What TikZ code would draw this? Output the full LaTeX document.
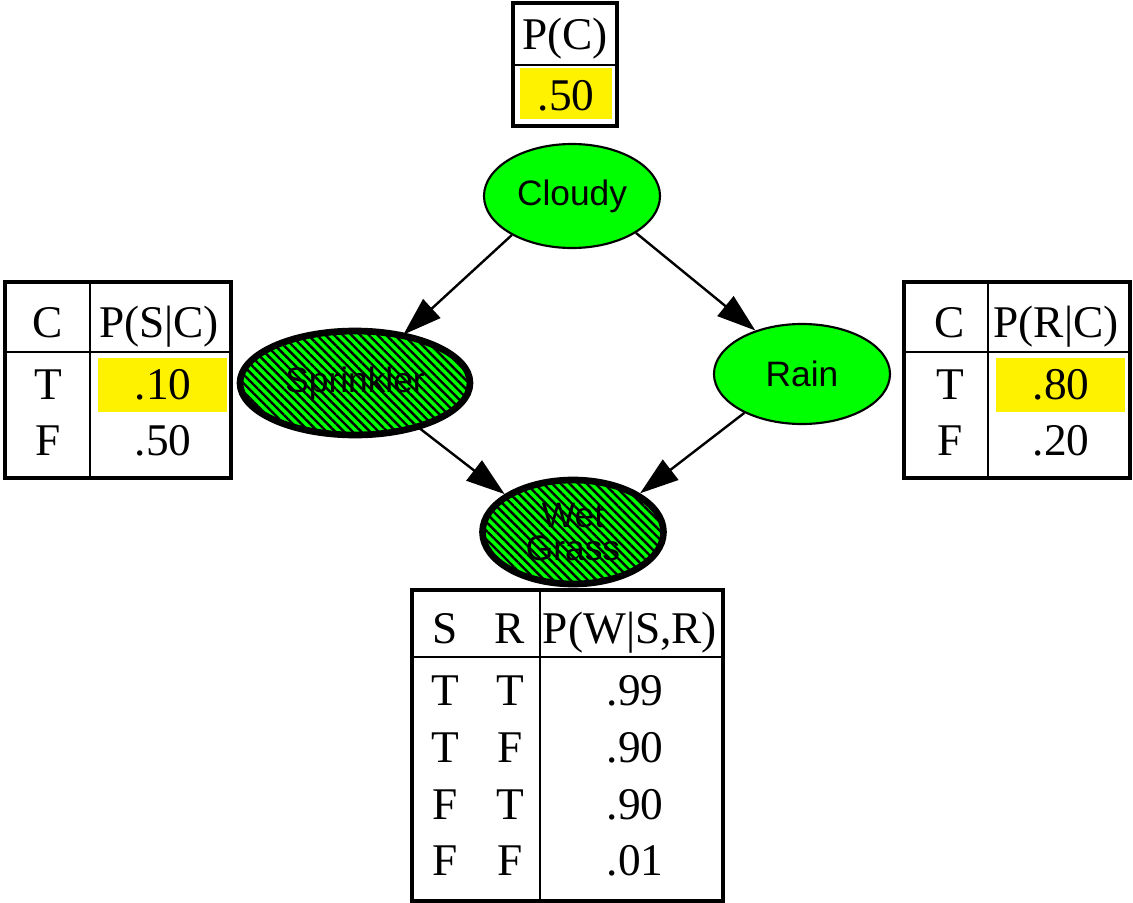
\documentclass[tikz,border=0pt]{standalone}
\usepackage{fontspec}
\setmainfont{Liberation Serif}
\newfontfamily\nodefont{Liberation Sans}
\usetikzlibrary{shapes.geometric,arrows.meta,patterns.meta}
\begin{document}
\begin{tikzpicture}[x=0.75pt,y=-0.75pt,
  bn/.style={ellipse,draw,line width=1.6pt,fill=green,inner sep=0pt,font=\nodefont\fontsize{26.5}{25}\selectfont,align=center},
  obs/.style={bn,line width=5pt,preaction={fill=green},pattern={Lines[angle=-45,distance=4.6pt,line width=1.8pt]},pattern color=black},
  edge/.style={line width=1.8pt,-{Triangle[length=29pt,width=19pt]}},
  tbl/.style={draw,line width=2.4pt},
  tline/.style={line width=1.7pt},
  hl/.style={fill=yellow},
  cell/.style={anchor=base,inner sep=0pt,font=\fontsize{34}{38}\selectfont}
]
\useasboundingbox (0,0) rectangle (1133,903);

% Bayesian network nodes
\node[bn,minimum width=132pt,minimum height=78pt] (cloudy) at (572,196) {Cloudy};
\node[obs,minimum width=172.5pt,minimum height=78pt] (sprinkler) at (355,383) {Sprinkler};
\node[bn,minimum width=132pt,minimum height=75pt] (rain) at (802,374) {Rain};
\node[obs,minimum width=135.75pt,minimum height=78pt] (wet) at (573,532) {Wet\\Grass};

% edges
\draw[edge] (cloudy.213) -- (sprinkler.45);
\draw[edge] (cloudy.330) -- (rain.137);
\draw[edge] (sprinkler.325) -- (wet.151);
\draw[edge] (rain.214) -- (wet.30);

% top table P(C)
\fill[hl] (520,68) rectangle (612,119);
\draw[tline] (513,65) -- (617,65);
\draw[tbl] (513,3) rectangle (617,126);
\node[cell] (pc) at (565,49) {P(C)};
\node[cell] (pcv) at (566,110) {.50};

% left table P(S|C)
\fill[hl] (98,358) rectangle (227,412);
\draw[tline] (5,352) -- (231,352);
\draw[tline] (90,282) -- (90,478);
\draw[tbl] (5,282) rectangle (231,478);
\node[cell] (sh1) at (48,337) {C};
\node[cell] (sh2) at (159,337) {P(S|C)};
\node[cell] (s11) at (48,399) {T};
\node[cell] (s12) at (163,399) {.10};
\node[cell] (s21) at (48,455) {F};
\node[cell] (s22) at (163,455) {.50};

% right table P(R|C)
\fill[hl] (996,358) rectangle (1125,412);
\draw[tline] (904,352) -- (1130,352);
\draw[tline] (988,282) -- (988,478);
\draw[tbl] (904,282) rectangle (1130,478);
\node[cell] (rh1) at (950,337) {C};
\node[cell] (rh2) at (1056,337) {P(R|C)};
\node[cell] (r11) at (950,399) {T};
\node[cell] (r12) at (1061,399) {.80};
\node[cell] (r21) at (950,455) {F};
\node[cell] (r22) at (1061,455) {.20};

% bottom table P(W|S,R)
\draw[tline] (412,657) -- (723,657);
\draw[tline] (540,590) -- (540,901);
\draw[tbl] (412,590) rectangle (723,901);
\node[cell] (wh1) at (445,643) {S};
\node[cell] (wh2) at (510,643) {R};
\node[cell] (wh3) at (630,643) {P(W|S,R)};
\node[cell] (w11) at (445,705) {T};
\node[cell] (w12) at (510,705) {T};
\node[cell] (w13) at (635,705) {.99};
\node[cell] (w21) at (445,762) {T};
\node[cell] (w22) at (510,762) {F};
\node[cell] (w23) at (635,762) {.90};
\node[cell] (w31) at (445,819) {F};
\node[cell] (w32) at (510,819) {T};
\node[cell] (w33) at (635,819) {.90};
\node[cell] (w41) at (445,875) {F};
\node[cell] (w42) at (510,875) {F};
\node[cell] (w43) at (635,875) {.01};
\end{tikzpicture}
\end{document}
